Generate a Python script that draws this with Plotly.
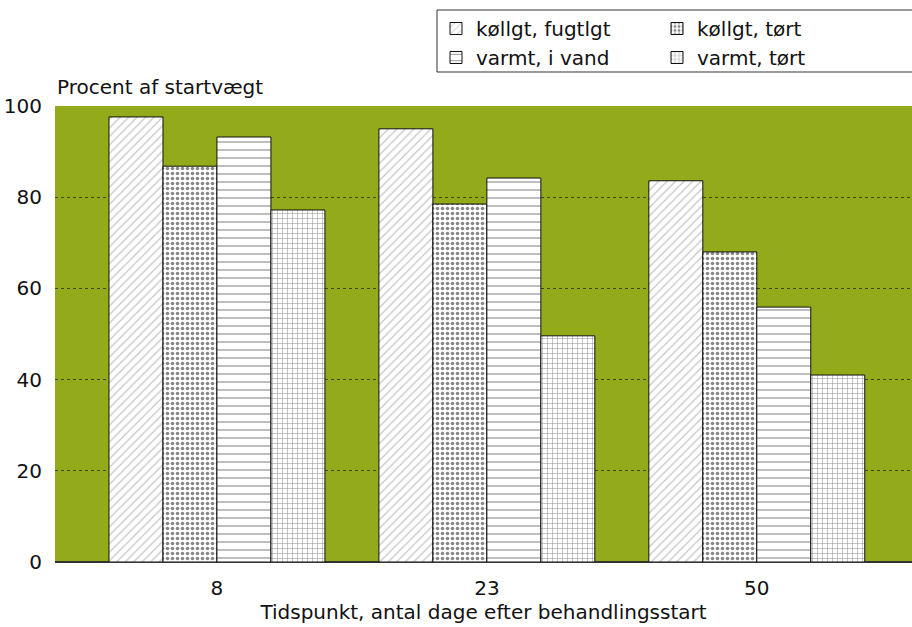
import plotly.graph_objects as go

categories = ["8", "23", "50"]
series_names = ["køllgt, fugtlgt", "køllgt, tørt", "varmt, i vand", "varmt, tørt"]
v_koelig_fugtig = [97.6, 95.0, 83.6]
v_koelig_toert = [86.8, 78.5, 68.0]
v_varm_vand = [93.2, 84.2, 55.9]
v_varm_toert = [77.2, 49.6, 41.0]
y_ticks = [0, 20, 40, 60, 80, 100]

series = [v_koelig_fugtig, v_koelig_toert, v_varm_vand, v_varm_toert]
patterns = ["/", ".", "-", "+"]
pat_sizes = [6, 5, 8, 5]
pat_sol = [0.2, 0.4, 0.15, 0.2]
pat_fg = ["#8a8a8a", "#111111", "#222222", "#222222"]
legend_ids = ["legend", "legend2", "legend", "legend2"]

font = "DejaVu Sans, Verdana, sans-serif"
fig = go.Figure()
for name, vals, p, s, so, fg, lg in zip(series_names, series, patterns, pat_sizes, pat_sol, pat_fg, legend_ids):
    fig.add_trace(go.Bar(
        x=categories, y=vals, name=name, legend=lg,
        marker=dict(color="white", line=dict(color="#111111", width=1),
                    pattern=dict(shape=p, size=s, solidity=so, fgcolor=fg, bgcolor="white")),
    ))

leg_common = dict(orientation="v", xref="container", yref="container",
                  xanchor="left", yanchor="top", bgcolor="rgba(0,0,0,0)",
                  borderwidth=0, font=dict(size=20, family=font, color="#111111"),
                  traceorder="normal", tracegroupgap=0, itemwidth=30)

fig.update_layout(
    width=912, height=627,
    barmode="group", bargap=0.2, bargroupgap=0,
    paper_bgcolor="white", plot_bgcolor="#93aa1a",
    margin=dict(l=55, r=0, t=106, b=65, autoexpand=False),
    font=dict(family=font, size=20, color="#111111"),
    showlegend=True,
    legend=dict(x=436 / 912, y=1 - 9 / 627, **leg_common),
    legend2=dict(x=657 / 912, y=1 - 9 / 627, **leg_common),
    xaxis=dict(type="category", range=[-0.6, 2.575], showgrid=False, automargin=False,
               ticks="", tickfont=dict(size=20), ticklabelstandoff=12,
               title=dict(text="Tidspunkt, antal dage efter behandlingsstart",
                          font=dict(size=20), standoff=4)),
    yaxis=dict(range=[0, 100], tickvals=y_ticks, showgrid=True, automargin=False,
               gridcolor="rgba(30,40,0,0.75)", gridwidth=1, griddash="dot",
               zeroline=True, zerolinecolor="#333333", zerolinewidth=1.5,
               ticks="", tickfont=dict(size=20), ticklabelstandoff=12),
    shapes=[dict(type="rect", xref="paper", yref="paper",
                 x0=(437 - 55) / 857, x1=1.02,
                 y0=(562 - 72) / 456, y1=(562 - 10) / 456,
                 line=dict(color="#333333", width=1), fillcolor="rgba(0,0,0,0)")],
    annotations=[dict(text="Procent af startvægt", xref="paper", yref="paper",
                      x=0, y=1.01, xanchor="left", yanchor="bottom",
                      showarrow=False, font=dict(size=20))],
)
fig.write_html("out.html", config={"displayModeBar": False},
               post_script="document.body.style.margin='0px';")
